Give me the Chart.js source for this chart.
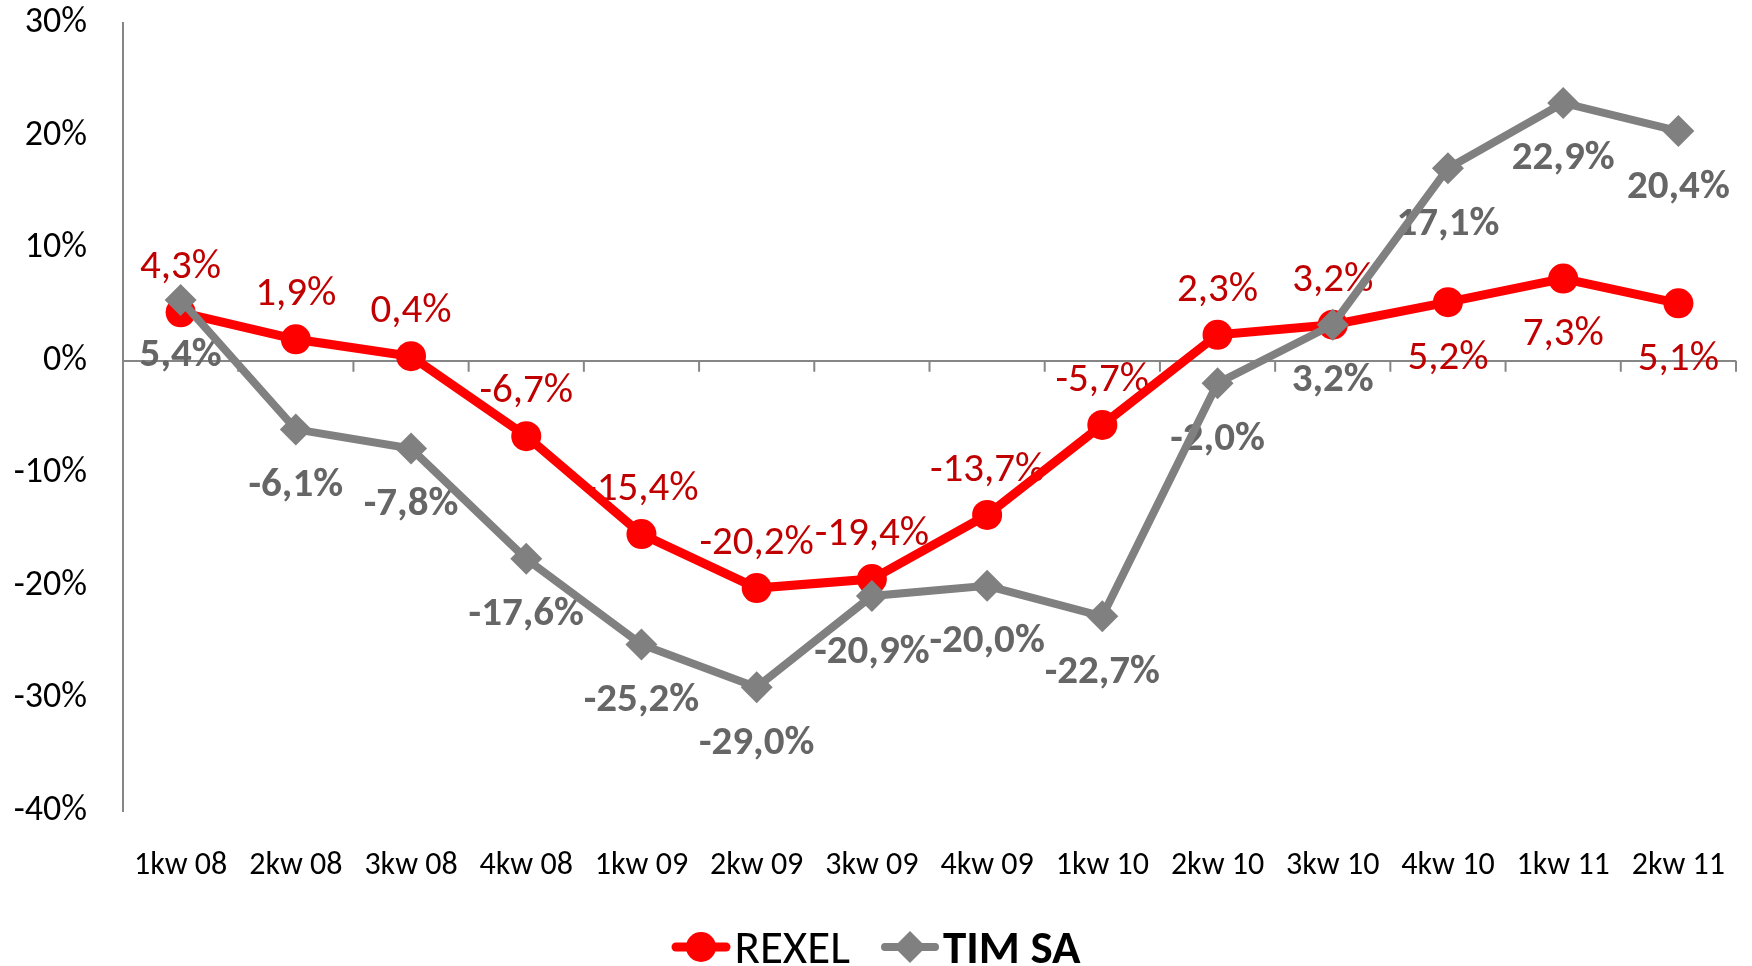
<!DOCTYPE html>
<html>
<head>
<meta charset="utf-8">
<script src="https://cdn.jsdelivr.net/npm/chart.js@4.4.1/dist/chart.umd.min.js"></script>
<style>
  html, body { margin: 0; padding: 0; background: #fff; }
  #wrap { position: relative; width: 1752px; height: 966px; }
  #chart { position: absolute; left: 0; top: 0; }
  #legend { position: absolute; left: 0; top: 920px; width: 1752px; height: 54px;
    display: flex; justify-content: center; align-items: center;
    font-family: Carlito, Lato, sans-serif; font-size: 47px; color: #000; }
  .item { display: flex; align-items: center; }
  .item svg { display: block; margin-right: 3px; }
  .gap { width: 30px; }
</style>
</head>
<body>
<div id="wrap">
  <canvas id="chart" width="1752" height="966"></canvas>
  <div id="legend">
    <div class="item">
      <svg width="60" height="40"><line x1="5" y1="20" x2="55" y2="20" stroke="#FF0000" stroke-width="9" stroke-linecap="round"/><circle cx="30" cy="20" r="15" fill="#FF0000"/></svg>
      <span id="lg0" style="font-weight:normal"></span>
    </div>
    <div class="gap"></div>
    <div class="item">
      <svg width="60" height="40"><line x1="5" y1="20" x2="55" y2="20" stroke="#808080" stroke-width="8" stroke-linecap="round"/><polygon points="30,4 46,20 30,36 14,20" fill="#808080"/></svg>
      <span id="lg1" style="font-weight:bold"></span>
    </div>
  </div>
</div>
<script>
const categories = ['1kw 08','2kw 08','3kw 08','4kw 08','1kw 09','2kw 09','3kw 09','4kw 09','1kw 10','2kw 10','3kw 10','4kw 10','1kw 11','2kw 11'];
const seriesNames = ['REXEL', 'TIM SA'];
const rexel = [4.3, 1.9, 0.4, -6.7, -15.4, -20.2, -19.4, -13.7, -5.7, 2.3, 3.2, 5.2, 7.3, 5.1];
const timSa = [5.4, -6.1, -7.8, -17.6, -25.2, -29.0, -20.9, -20.0, -22.7, -2.0, 3.2, 17.1, 22.9, 20.4];
const yTickValues = [-40, -30, -20, -10, 0, 10, 20, 30];

document.getElementById('lg0').textContent = seriesNames[0];
document.getElementById('lg1').textContent = seriesNames[1];

const FONT = 'Carlito, Lato, sans-serif';
const AXIS_GREY = '#868686';
const fmt = v => v.toFixed(1).replace('.', ',') + '%';

const labelStyles = [
  { color: '#C00000', weight: 'normal', size: 41, pos: i => (i >= 11 ? 'below' : 'above') },
  { color: '#666666', weight: 'bold', size: 41, pos: i => 'below' }
];

const decorPlugin = {
  id: 'decor',
  beforeDatasetsDraw(chart) {
    const ctx = chart.ctx;
    const x = chart.scales.x, y = chart.scales.y;
    const area = chart.chartArea;
    const y0 = y.getPixelForValue(0);
    ctx.save();
    ctx.strokeStyle = AXIS_GREY;
    ctx.lineWidth = 2;
    const n = categories.length;
    const bounds = [area.left];
    for (let i = 1; i < n; i++) bounds.push((x.getPixelForValue(i - 1) + x.getPixelForValue(i)) / 2);
    bounds.push(area.right);
    ctx.beginPath();
    bounds.forEach((bx, i) => {
      if (i === 0) return;
      ctx.moveTo(bx, y0);
      ctx.lineTo(bx, y0 + 11);
    });
    ctx.stroke();
    chart.data.datasets.forEach((ds, di) => {
      const meta = chart.getDatasetMeta(di);
      const st = labelStyles[di];
      ctx.font = `${st.weight} ${st.size}px ${FONT}`;
      ctx.fillStyle = st.color;
      ctx.textAlign = 'center';
      ctx.textBaseline = 'alphabetic';
      const cap = st.size * 0.72;
      meta.data.forEach((pt, i) => {
        const txt = fmt(ds.data[i]);
        const p = st.pos(i);
        const by = p === 'above' ? pt.y - 34 : pt.y + 37 + cap;
        ctx.fillText(txt, pt.x, by);
      });
    });
    ctx.restore();
  }
};

new Chart(document.getElementById('chart'), {
  type: 'line',
  data: {
    labels: categories,
    datasets: [
      {
        label: seriesNames[0], data: rexel, order: 1,
        borderColor: '#FF0000', backgroundColor: '#FF0000', borderWidth: 9,
        pointStyle: 'circle', pointRadius: 15, pointBorderWidth: 0,
        pointBackgroundColor: '#FF0000', tension: 0, fill: false
      },
      {
        label: seriesNames[1], data: timSa, order: 0,
        borderColor: '#808080', backgroundColor: '#808080', borderWidth: 8,
        pointStyle: 'rectRot', pointRadius: 16, pointBorderWidth: 0,
        pointBackgroundColor: '#808080', tension: 0, fill: false
      }
    ]
  },
  options: {
    responsive: false,
    animation: false,
    devicePixelRatio: 1,
    layout: { padding: { top: 23, right: 13, bottom: 75, left: 0 } },
    plugins: { legend: { display: false }, tooltip: { enabled: false } },
    scales: {
      x: {
        offset: true,
        grid: { display: false },
        border: { display: false },
        ticks: { font: { family: FONT, size: 32 }, color: '#000', padding: 28, maxRotation: 0, autoSkip: false },
        afterFit: s => { s.height = 80; s.paddingLeft = 0; s.paddingRight = 0; }
      },
      y: {
        min: -40, max: 30,
        afterBuildTicks: s => { s.ticks = yTickValues.map(v => ({ value: v })); },
        grid: {
          drawTicks: false,
          lineWidth: 2,
          color: c => (c.tick && c.tick.value === 0 ? AXIS_GREY : 'rgba(0,0,0,0)')
        },
        border: { display: true, color: AXIS_GREY, width: 2 },
        ticks: { font: { family: FONT, size: 36 }, color: '#000', padding: 36, callback: v => v + '%' },
        afterFit: s => { s.width = 123; s.paddingTop = 0; s.paddingBottom = 0; }
      }
    }
  },
  plugins: [decorPlugin]
});
</script>
</body>
</html>
